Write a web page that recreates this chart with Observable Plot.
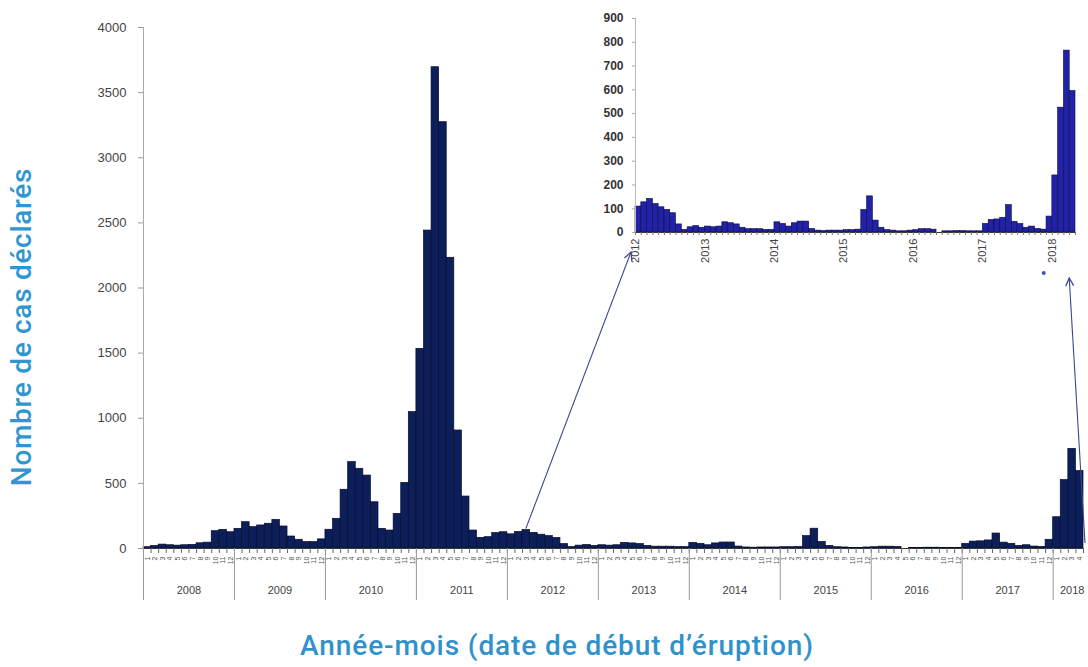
<!DOCTYPE html>
<html>
<head>
<meta charset="utf-8">
<script src="https://cdn.jsdelivr.net/npm/d3@7"></script>
<script src="https://cdn.jsdelivr.net/npm/@observablehq/plot@0.6"></script>
<style>
  html, body { margin: 0; padding: 0; background: #fff; }
  #wrap { position: relative; width: 1088px; height: 667px; overflow: hidden; background: #fff;
          font-family: "Liberation Sans", Arial, sans-serif; }
  #main, #inset { position: absolute; top: 0; }
  #main { left: 0; }
  #inset { left: 580px; }
  #overlay { position: absolute; left: 0; top: 0; pointer-events: none; }
  #ytitle { position: absolute; width: 440px; height: 32px; line-height: 32px; text-align: center;
            left: -198px; top: 311px; transform: rotate(-90deg); font-family: Roboto, "Liberation Sans", sans-serif;
            font-weight: 500; font-size: 28px; letter-spacing: 0.7px; color: #2f96cf; white-space: nowrap; }
  #xtitle { position: absolute; width: 760px; height: 32px; line-height: 32px; text-align: center;
            left: 177px; top: 630px; font-family: Roboto, "Liberation Sans", sans-serif;
            font-weight: 500; font-size: 28px; letter-spacing: 0.9px; color: #2f92cb; white-space: nowrap; }
</style>
</head>
<body>
<div id="wrap">
  <div id="main"></div>
  <div id="inset"></div>
  <svg id="overlay" width="1088" height="667"></svg>
  <div id="ytitle">Nombre de cas déclarés</div>
  <div id="xtitle">Année-mois (date de début d’éruption)</div>
</div>
<script>
// ---- data (monthly reported cases) ----
const years = [2008, 2009, 2010, 2011, 2012, 2013, 2014, 2015, 2016, 2017, 2018];
const monthLabels = ["1", "2", "3", "4", "5", "6", "7", "8", "9", "10", "11", "12"];
const y2008 = [10, 20, 30, 25, 22, 25, 28, 40, 45, 133, 143, 125];
const y2009 = [151, 202, 164, 177, 190, 220, 169, 92, 67, 49, 49, 70];
const y2010 = [144, 228, 451, 663, 612, 560, 355, 151, 138, 266, 504, 1047];
const y2011 = [1533, 2441, 3695, 3273, 2232, 906, 399, 138, 82, 87, 118, 125];
const y2012 = [109, 127, 141, 120, 106, 95, 81, 34, 11, 22, 27, 20];
const y2013 = [25, 22, 25, 43, 39, 34, 20, 14, 14, 14, 11, 11];
const y2014 = [43, 36, 25, 39, 46, 46, 15, 8, 6, 8, 8, 8];
const y2015 = [10, 10, 12, 95, 152, 50, 20, 10, 8, 5, 5, 8];
const y2016 = [10, 14, 14, 12, 0, 5, 5, 6, 6, 5, 5, 5];
const y2017 = [36, 53, 55, 62, 115, 45, 36, 20, 25, 15, 12, 67];
const y2018 = [240, 525, 765, 595];
const mainTicks = [0, 500, 1000, 1500, 2000, 2500, 3000, 3500, 4000];
const insetTicks = [0, 100, 200, 300, 400, 500, 600, 700, 800, 900];

const seriesByYear = [y2008, y2009, y2010, y2011, y2012, y2013, y2014, y2015, y2016, y2017, y2018];
const table = [];
seriesByYear.forEach((vals, yi) => vals.forEach((v, m) => table.push({i: yi * 12 + m, year: years[yi], month: m + 1, value: v})));
const nMonths = table.length;
const insetStart = years.indexOf(2012) * 12;
const insetData = table.filter(d => d.i >= insetStart);

const font = "Liberation Sans, Arial, sans-serif";
const yearStarts = years.map((y, k) => k * 12);
const yearMids = years.map((y, k) => Math.min(k * 12 + 6, k * 12 + (seriesByYear[k].length) / 2 + 0.5));

// ---- main chart ----
const main = Plot.plot({
  width: 1088, height: 610,
  marginLeft: 143, marginRight: 5, marginTop: 27, marginBottom: 62,
  style: {fontFamily: font, color: "#555", background: "transparent"},
  x: {domain: [0, nMonths]},
  y: {domain: [0, 4000]},
  marks: [
    Plot.rectY(table, {x1: "i", x2: d => d.i + 1, y: "value", fill: "#0d1f5a", stroke: "#060d2a", strokeWidth: 0.7}),
    Plot.ruleX([0], {stroke: "#aaa"}),
    Plot.ruleY([0], {stroke: "#333", strokeWidth: 1.2}),
    Plot.axisY(mainTicks, {tickSize: 5, tickPadding: 12, fontSize: 13, tickFormat: d => String(d), label: null, stroke: "#999", fill: "#444"}),
    Plot.axisX(d3.range(0, nMonths + 1), {tickSize: 5, tickFormat: () => "", label: null, stroke: "#666"}),
    Plot.axisX(table.map(d => d.i + 0.5), {tickSize: 0, tickPadding: 8, tickRotate: -90, fontSize: 7,
      tickFormat: d => monthLabels[Math.floor(d) % 12], label: null, fill: "#555"}),
    Plot.axisX(yearStarts, {tickSize: 52, tickFormat: () => "", label: null, stroke: "#999"}),
    Plot.axisX(yearMids, {tickSize: 0, tickPadding: 38, fontSize: 11,
      tickFormat: d => String(years[Math.floor(d / 12)]), label: null, fill: "#444"})
  ]
});
document.getElementById("main").appendChild(main);

// ---- inset chart (2012-2018) ----
const inset = Plot.plot({
  width: 508, height: 280,
  marginLeft: 55, marginRight: 13, marginTop: 18, marginBottom: 48,
  style: {fontFamily: font, color: "#333", background: "transparent"},
  x: {domain: [insetStart, nMonths]},
  y: {domain: [0, 900]},
  marks: [
    Plot.rectY(insetData, {x1: "i", x2: d => d.i + 1, y: "value", fill: "#2222a8", stroke: "#0b0b45", strokeWidth: 0.6}),
    Plot.ruleX([insetStart], {stroke: "#bbb"}),
    Plot.ruleY([0], {stroke: "#333"}),
    Plot.axisY(insetTicks, {tickSize: 3, tickPadding: 9, fontSize: 12, fontWeight: "bold", tickFormat: d => String(d), label: null, stroke: "#aaa", fill: "#333"}),
    Plot.axisX(d3.range(insetStart, nMonths + 1), {tickSize: 3, tickFormat: () => "", label: null, stroke: "#777"}),
    Plot.axisX(yearStarts.filter(s => s >= insetStart), {tickSize: 0, tickPadding: 6, tickRotate: -90, fontSize: 11,
      tickFormat: d => String(years[d / 12]), label: null, fill: "#444"})
  ]
});
document.getElementById("inset").appendChild(inset);

// ---- connecting arrows (positions derived from the scales) ----
const mx = main.scale("x"), my = main.scale("y");
const ix = inset.scale("x"), iy = inset.scale("y");
const insetLeft = 580;
const ov = d3.select("#overlay");
const defs = ov.append("defs");
defs.append("marker").attr("id", "head").attr("viewBox", "0 0 10 10").attr("refX", 9).attr("refY", 5)
  .attr("markerWidth", 9).attr("markerHeight", 9).attr("orient", "auto-start-reverse")
  .append("path").attr("d", "M1,1 L9,5 L1,9").attr("fill", "none").attr("stroke", "#3a4790").attr("stroke-width", 1.3);

const arrows = [
  {x1: mx.apply(insetStart + 2.5), y1: my.apply(y2012[2]) - 1, x2: insetLeft + ix.apply(insetStart) - 4, y2: iy.apply(0) + 20},
  {x1: mx.apply(nMonths) + 2, y1: my.apply(0) - 5, x2: insetLeft + ix.apply(nMonths - 1), y2: iy.apply(0) + 46}
];
ov.selectAll("line.arr").data(arrows).join("line").attr("class", "arr")
  .attr("x1", d => d.x1).attr("y1", d => d.y1).attr("x2", d => d.x2).attr("y2", d => d.y2)
  .attr("stroke", "#3a4790").attr("stroke-width", 1.1).attr("marker-end", "url(#head)");
ov.append("circle").attr("cx", insetLeft + ix.apply(nMonths - 5.4)).attr("cy", iy.apply(0) + 41).attr("r", 2).attr("fill", "#3b55b0");
</script>
</body>
</html>
